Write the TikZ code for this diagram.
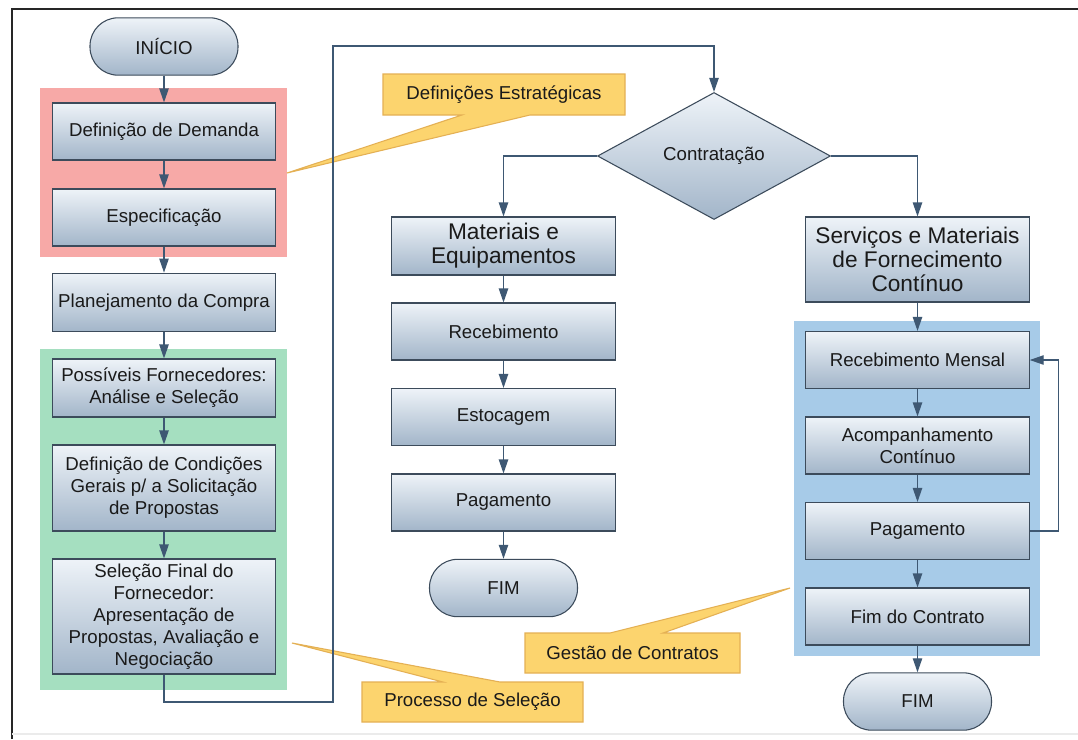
\documentclass[tikz,border=0pt]{standalone}
\usepackage{fontspec}
\setmainfont{Liberation Sans}
\usetikzlibrary{arrows.meta,shapes.geometric}

\definecolor{boxtop}{HTML}{EEF3F8}
\definecolor{boxbot}{HTML}{A2B5C9}
\definecolor{boxline}{HTML}{3C4B5B}
\definecolor{flow}{HTML}{3E5873}
\definecolor{grpred}{HTML}{F7A9A7}
\definecolor{grpgreen}{HTML}{A5DFC0}
\definecolor{grpblue}{HTML}{A7CBE8}
\definecolor{notefill}{HTML}{FCD46E}
\definecolor{noteline}{HTML}{E4B054}
\definecolor{ink}{HTML}{1A1A1A}

\begin{document}
\begin{tikzpicture}[x=0.75pt,y=-0.75pt,
  txt/.style={font=\fontsize{14}{16.6}\selectfont, text=ink},
  bigtxt/.style={font=\fontsize{17}{18}\selectfont, text=ink},
  stepbox/.style={txt, rectangle, draw=boxline, line width=0.8pt,
    top color=boxtop, bottom color=boxbot, align=center,
    minimum width=167.5pt, minimum height=42.75pt, inner sep=0pt},
  term/.style={txt, rectangle, rounded corners=21pt, draw=boxline, line width=0.8pt,
    top color=boxtop, bottom color=boxbot,
    minimum width=111pt, minimum height=43pt, inner sep=0pt},
  decision/.style={txt, diamond, draw=boxline, line width=0.8pt,
    top color=boxtop, bottom color=boxbot,
    minimum width=174.75pt, minimum height=95.25pt, inner sep=0pt},
  flowarrow/.style={draw=flow, line width=1pt,
    -{Triangle[length=10.5pt,width=7pt]}},
  notebox/.style={fill=notefill, draw=noteline, line width=0.8pt, line join=miter},
  notetxt/.style={txt, inner sep=0pt}
]
\useasboundingbox (0,0) rectangle (1078,739);
\fill[white] (0,0) rectangle (1078,739);

% page frame
\draw[black!85, line width=1.5pt] (12,739) -- (12,9) -- (1078,9);
\draw[black!8, line width=0.8pt] (12,734) -- (1078,734);

% group backgrounds
\fill[grpred]   (40,88)   rectangle (287,257);
\fill[grpgreen] (40,349)  rectangle (287,690);
\fill[grpblue]  (794,321) rectangle (1040,656);

% callouts
\path[notebox] (383,74) -- (625,74) -- (625,115) -- (530,115) -- (287,173)
  -- (462,115) -- (383,115) -- cycle;
\node[notetxt] (nEstr) at (504,94.5) {Definições Estratégicas};

\path[notebox] (362,682) -- (443,682) -- (292,643) -- (500,682) -- (583,682)
  -- (583,722) -- (362,722) -- cycle;
\node[notetxt] (nSel) at (472.5,702) {Processo de Seleção};

\path[notebox] (525,633) -- (610,633) -- (790,588) -- (663,633) -- (740,633)
  -- (740,673) -- (525,673) -- cycle;
\node[notetxt] (nGest) at (632.5,653) {Gestão de Contratos};

% left column
\node[term] (ini) at (164,46.5) {INÍCIO};
\node[stepbox] (dem)  at (164,131.5) {Definição de Demanda};
\node[stepbox] (esp)  at (164,217.5) {Especificação};
\node[stepbox, minimum height=44pt] (plan) at (164,302.5) {Planejamento da Compra};
\node[stepbox, minimum height=43.5pt] (poss) at (164,388) {Possíveis Fornecedores:\\Análise e Seleção};
\node[stepbox, minimum height=64.5pt] (cond) at (164,488) {Definição de Condições\\Gerais p/ a Solicitação\\de Propostas};
\node[stepbox, minimum height=86.25pt] (sel)  at (164,616.5) {Seleção Final do\\Fornecedor:\\Apresentação de\\Propostas, Avaliação e\\Negociação};

% decision
\node[decision] (ctr) at (714,156) {Contratação};

% middle column
\node[stepbox, bigtxt, minimum height=43.5pt] (mat) at (503.5,246) {Materiais e\\Equipamentos};
\node[stepbox] (rec) at (503.5,331.5) {Recebimento};
\node[stepbox] (est) at (503.5,417) {Estocagem};
\node[stepbox] (pag) at (503.5,502.5) {Pagamento};
\node[term] (fim1) at (503.5,588) {FIM};

% right column
\node[stepbox, bigtxt, minimum height=63.75pt] (serv) at (917.5,259.5) {Serviços e Materiais\\de Fornecimento\\Contínuo};
\node[stepbox] (rm)   at (917.5,360) {Recebimento Mensal};
\node[stepbox] (aco)  at (917.5,445.5) {Acompanhamento\\Contínuo};
\node[stepbox] (pag2) at (917.5,531) {Pagamento};
\node[stepbox] (fc)   at (917.5,616.5) {Fim do Contrato};
\node[term] (fim2) at (917.5,701.5) {FIM};

% connectors
\draw[flowarrow] (ini) -- (dem);
\draw[flowarrow] (dem) -- (esp);
\draw[flowarrow] (esp) -- (plan);
\draw[flowarrow] (plan) -- (poss);
\draw[flowarrow] (poss) -- (cond);
\draw[flowarrow] (cond) -- (sel);

\coordinate (low)  at (333,702);
\coordinate (high) at (333,46);
\draw[flowarrow] (sel.south) |- (low) -- (high) -| (ctr.north);

\draw[flowarrow] (ctr.west) -| (mat.north);
\draw[flowarrow] (ctr.east) -| (serv.north);

\draw[flowarrow] (mat) -- (rec);
\draw[flowarrow] (rec) -- (est);
\draw[flowarrow] (est) -- (pag);
\draw[flowarrow] (pag) -- (fim1);

\draw[flowarrow] (serv) -- (rm);
\draw[flowarrow] (rm) -- (aco);
\draw[flowarrow] (aco) -- (pag2);
\draw[flowarrow] (pag2) -- (fc);
\draw[flowarrow] (fc) -- (fim2);
\draw[flowarrow] (pag2.east) -- ++(29,0) |- (rm.east);
\end{tikzpicture}
\end{document}
